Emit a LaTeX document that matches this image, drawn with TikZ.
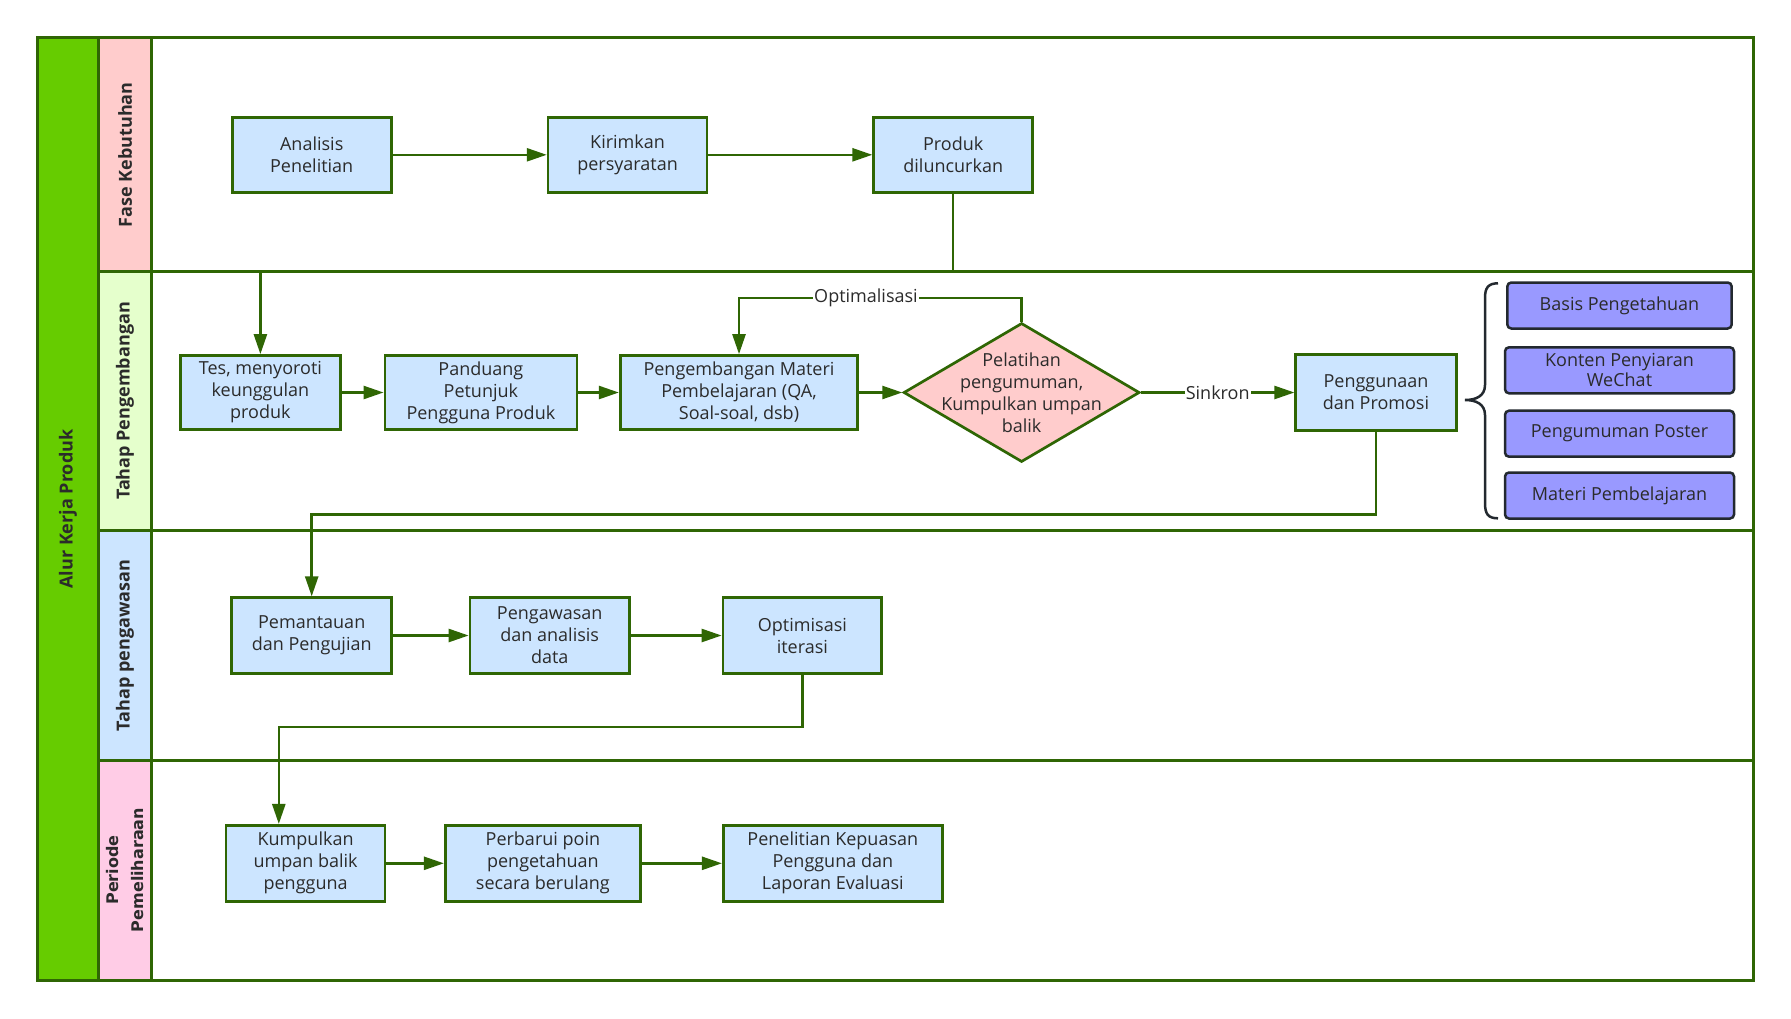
\documentclass[tikz,border=0pt]{standalone}
\usepackage{fontspec}
\setmainfont{Open Sans}
\newfontfamily\dejavu{DejaVu Sans}
\usetikzlibrary{arrows.meta,shapes.geometric}
\definecolor{lg}{HTML}{2F6604}
\definecolor{boxblue}{HTML}{CCE5FF}
\definecolor{barg}{HTML}{66CC00}
\definecolor{hpink}{HTML}{FFCCCC}
\definecolor{hgreen}{HTML}{E5FFCC}
\definecolor{hblue}{HTML}{CCE5FF}
\definecolor{hrose}{HTML}{FFCCE6}
\definecolor{purp}{HTML}{9999FF}
\definecolor{darkline}{HTML}{23292F}
\definecolor{txt}{HTML}{2B2B2B}
\tikzset{
 lanebox/.style={draw=lg, line width=3pt},
 stepbox/.style={draw=lg, line width=2.7pt, fill=boxblue, minimum height=75pt, inner sep=0pt, align=center, text=txt, font=\fontsize{18}{22}\selectfont},
 decisionbox/.style={diamond, draw=lg, line width=2.7pt, fill=hpink, minimum width=236pt, minimum height=139pt, inner sep=0pt},
 itembox/.style={draw=darkline, line width=2.5pt, fill=purp, rounded corners=4pt, minimum height=46pt, minimum width=229pt, inner sep=0pt, align=center, text=txt, font=\fontsize{18}{20}\selectfont},
 flow/.style={draw=lg, line width=2.5pt, -{Triangle[length=20pt,width=13pt]}},
 flowlabel/.style={fill=white, inner sep=1pt, text=txt, align=center, font=\fontsize{18}{22}\selectfont},
 lanetitle/.style={rotate=90, text=txt, align=center, font=\fontsize{18}{22}\selectfont\bfseries},
}
\begin{document}
\begin{tikzpicture}[x=1pt,y=-1pt]
\useasboundingbox (0,0) rectangle (1791,1018);
\fill[white] (0,0) rectangle (1791,1018);
% lane fills
\fill[barg] (37.7,37.7) rectangle (98.2,980);
\fill[hpink] (98.2,37.7) rectangle (151.9,271.8);
\fill[hgreen] (98.2,271.8) rectangle (151.9,530);
\fill[hblue] (98.2,530) rectangle (151.9,760.7);
\fill[hrose] (98.2,760.7) rectangle (151.9,980);
% lane borders
\draw[lanebox] (37.7,37.7) rectangle (1753.3,980);
\draw[lanebox] (98.2,37.7) -- (98.2,980);
\draw[lanebox] (151.9,37.7) -- (151.9,980);
\draw[lanebox] (98.2,271.8) -- (1753.3,271.8);
\draw[lanebox] (98.2,530) -- (1753.3,530);
\draw[lanebox] (98.2,760.7) -- (1753.3,760.7);
% titles
\node[lanetitle] (tmain) at (68,509) {Alur Kerja Produk};
\node[lanetitle] (t1) at (125,154.8) {Fase Kebutuhan};
\node[lanetitle] (t2) at (125,401) {Tahap Pengembangan};
\node[lanetitle] (t3) at (125,645.3) {Tahap pengawasan};
\node[lanetitle, font=\dejavu\fontsize{16}{25}\selectfont\bfseries] (t4) at (125,870) {Periode\\Pemeliharaan};
% routing levels
\coordinate (y12) at (0,271.8);
\coordinate (yopt) at (0,298);
\coordinate (y23) at (0,514.3);
\coordinate (k) at (278.8,727);
% nodes lane 1
\node[stepbox, minimum width=159pt] (a1) at (311.7,154.8) {Analisis\\Penelitian};
\node[stepbox, minimum width=159pt] (a2) at (627.6,154.8) {Kirimkan\\persyaratan};
\node[stepbox, minimum width=159pt] (a3) at (953.2,154.8) {Produk\\diluncurkan};
% lane 2
\node[stepbox, minimum width=160pt, minimum height=74pt] (b1) at (260.4,392.5) {Tes, menyoroti\\keunggulan\\produk};
\node[stepbox, minimum width=192pt, minimum height=74pt] (b2) at (480.9,392.5) {Panduang\\Petunjuk\\Pengguna Produk};
\node[stepbox, minimum width=237.6pt, minimum height=74pt] (b3) at (739,392.5) {Pengembangan Materi\\Pembelajaran (QA,\\Soal-soal, dsb)};
\node[decisionbox] (d) at (1021.6,392.5) {};
\node[flowlabel, fill=none] (dt) at (d.center) {Pelatihan\\pengumuman,\\Kumpulkan umpan\\balik};
\node[stepbox, minimum width=160.5pt, minimum height=76pt] (b5) at (1376,392.5) {Penggunaan\\dan Promosi};
\node[itembox, minimum width=224.4pt] (p1) at (1619.5,305.5) {Basis Pengetahuan};
\node[itembox] (p2) at (1619.5,370.3) {Konten Penyiaran\\WeChat};
\node[itembox] (p3) at (1619.5,433.7) {Pengumuman Poster};
\node[itembox] (p4) at (1619.5,495.5) {Materi Pembelajaran};
\draw[darkline, line width=2.5pt] (1498,283.3) .. controls (1488,283.3) and (1485,288) .. (1485,298) -- (1485,385) .. controls (1485,396) and (1476,400) .. (1465,400) .. controls (1476,400) and (1485,404) .. (1485,415) -- (1485,503) .. controls (1485,514) and (1488,518.3) .. (1498,518.3);
% lane 3
\node[stepbox, minimum width=160pt, minimum height=75.6pt] (c1) at (311.7,635.5) {Pemantauan\\dan Pengujian};
\node[stepbox, minimum width=159.4pt, minimum height=75.6pt] (c2) at (549.7,635.5) {Pengawasan\\dan analisis\\data};
\node[stepbox, minimum width=158.8pt, minimum height=75.6pt] (c3) at (802.4,635.5) {Optimisasi\\iterasi};
% lane 4
\node[stepbox, minimum width=159pt, minimum height=76pt] (e1) at (305.6,863.3) {Kumpulkan\\umpan balik\\pengguna};
\node[stepbox, minimum width=195.3pt, minimum height=76pt] (e2) at (542.9,863.3) {Perbarui poin\\pengetahuan\\secara berulang};
\node[stepbox, minimum width=219pt, minimum height=76pt] (e3) at (832.8,863.3) {Penelitian Kepuasan\\Pengguna dan\\Laporan Evaluasi};
% connectors
\draw[flow] (a1) -- (a2);
\draw[flow] (a2) -- (a3);
\draw[flow] (a3.south) -- (a3.south |- y12) -| (b1.north);
\draw[flow] (b1) -- (b2);
\draw[flow] (b2) -- (b3);
\draw[flow] (b3) -- (d.west);
\draw[flow] (d.north) |- (b3.north |- yopt) -- (b3.north);
\node[flowlabel] (lopt) at (866,298) {Optimalisasi};
\draw[flow] (d.east) -- node[flowlabel] (lsink) {Sinkron} (b5.west);
\draw[flow] (b5.south) -- (b5.south |- y23) -| (c1.north);
\draw[flow] (c1) -- (c2);
\draw[flow] (c2) -- (c3);
\draw[flow] (c3.south) |- (k) -- (k |- e1.north);
\draw[flow] (e1) -- (e2);
\draw[flow] (e2) -- (e3);
\end{tikzpicture}
\end{document}
